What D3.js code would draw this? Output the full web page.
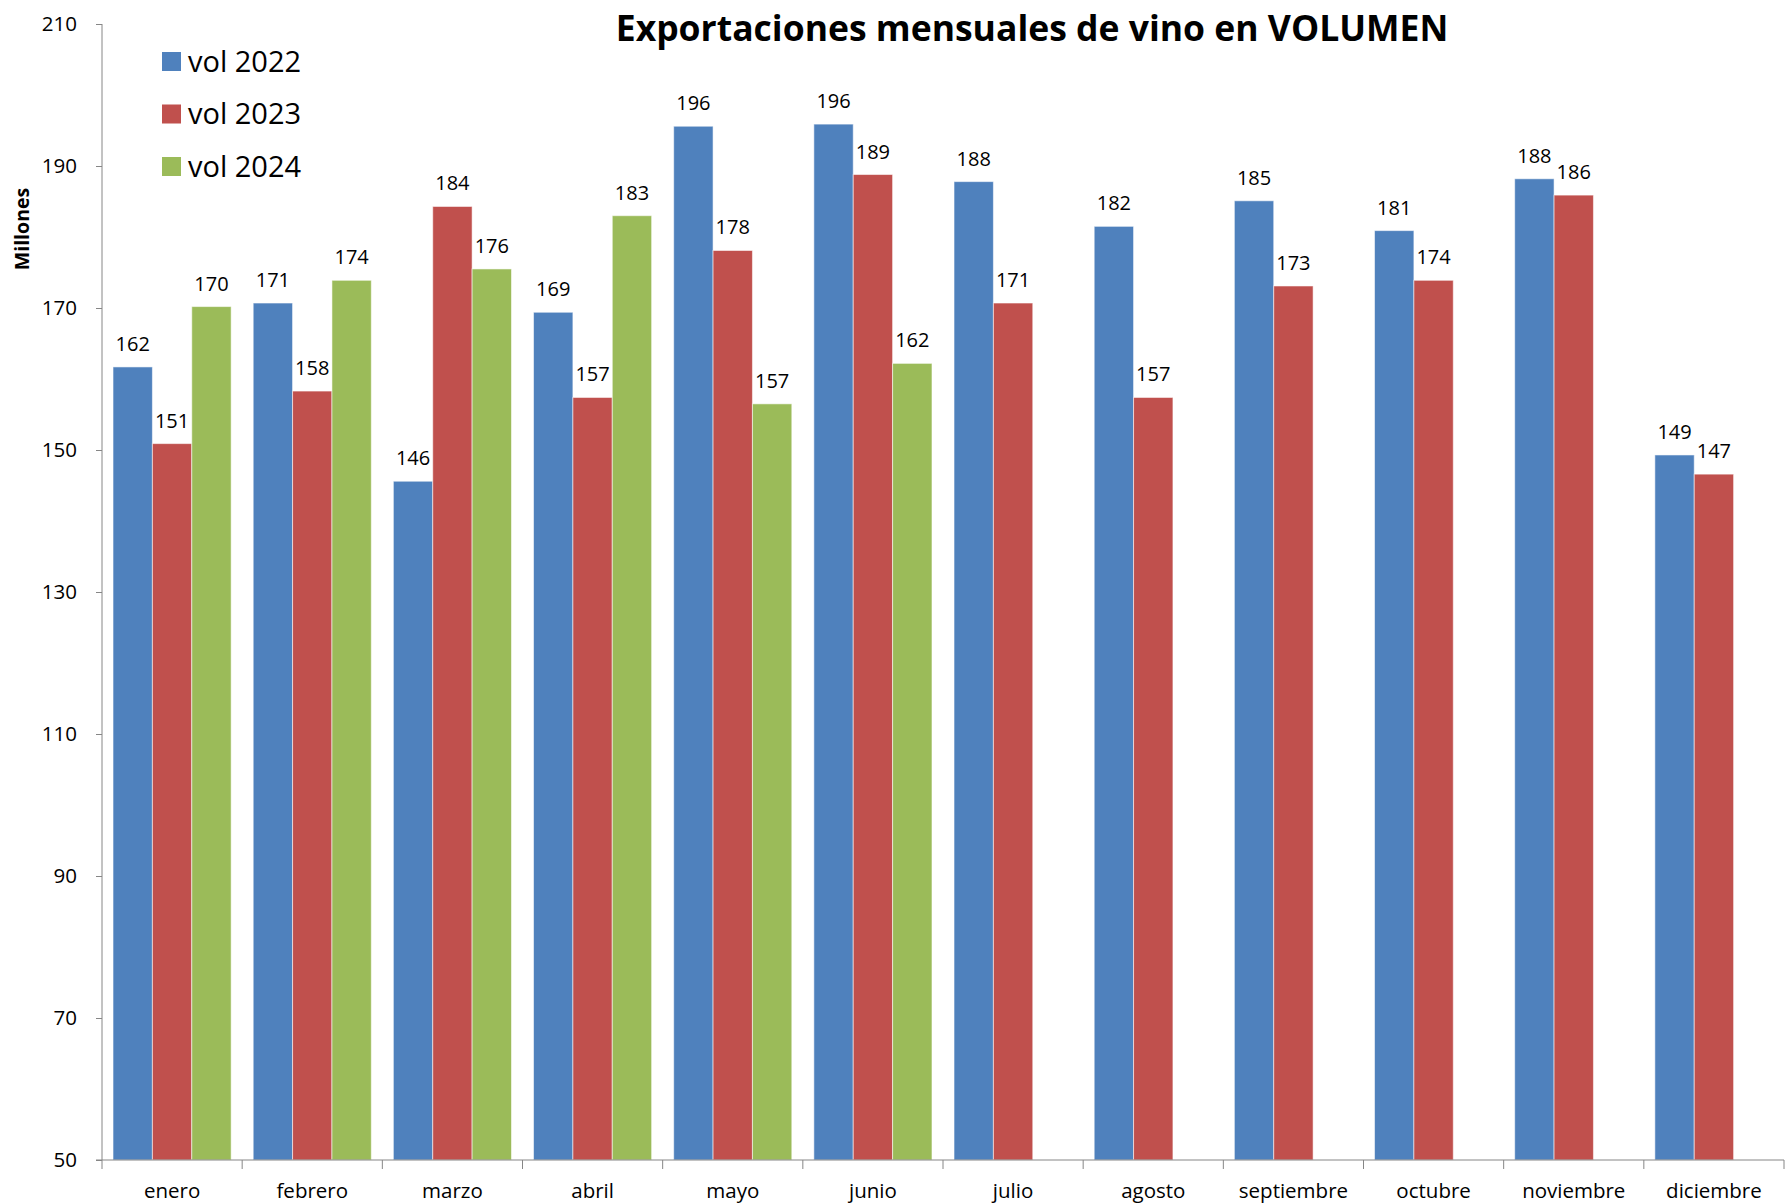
<!DOCTYPE html>
<html>
<head>
<meta charset="utf-8">
<script src="https://cdn.jsdelivr.net/npm/d3@7"></script>
<style>
  body { margin: 0; background: #fff; }
  text { font-family: "Open Sans", "Liberation Sans", sans-serif; fill: #000; }
  .axis path, .axis line { stroke: #868686; }
</style>
</head>
<body>
<div id="chart"></div>
<script>
var months = ['enero', 'febrero', 'marzo', 'abril', 'mayo', 'junio', 'julio', 'agosto', 'septiembre', 'octubre', 'noviembre', 'diciembre']
var series = ['vol 2022', 'vol 2023', 'vol 2024']
var colors = ['#4F81BD', '#C0504D', '#9BBB59']

var vol2022 = [161.7, 170.7, 145.6, 169.4, 195.6, 195.9, 187.8, 181.5, 185.1, 180.9, 188.2, 149.3]
var vol2023 = [150.9, 158.3, 184.3, 157.4, 178.1, 188.8, 170.7, 157.4, 173.1, 173.9, 185.9, 146.6]
var vol2024 = [170.2, 173.9, 175.5, 183.0, 156.5, 162.2]

var yTicks = [50, 70, 90, 110, 130, 150, 170, 190, 210]

var allVals = [vol2022, vol2023, vol2024]

var W = 1785, H = 1203
var margin = {left: 102, right: 1, top: 24, bottom: 43}
var width = W - margin.left - margin.right
var height = H - margin.top - margin.bottom

var svg = d3.select('#chart').append('svg')
  .attr('width', W).attr('height', H)

var g = svg.append('g').attr('transform', 'translate(' + margin.left + ',' + margin.top + ')')

var x0 = d3.scaleBand().domain(months).range([0, width]).padding(0)
var x1 = d3.scaleBand().domain(series).range([0, x0.bandwidth()]).paddingInner(0).paddingOuter(0.28)
var y = d3.scaleLinear().domain([50, 210]).range([height, 0])

// bars
var rows = []
series.forEach(function(s, i){
  allVals[i].forEach(function(v, j){
    rows.push({series: s, idx: i, month: months[j], value: v})
  })
})

g.selectAll('rect.bar').data(rows).enter().append('rect')
  .attr('class', 'bar')
  .attr('x', function(d){ return x0(d.month) + x1(d.series) })
  .attr('y', function(d){ return y(d.value) })
  .attr('width', x1.bandwidth())
  .attr('height', function(d){ return height - y(d.value) })
  .attr('fill', function(d){ return colors[d.idx] })
  .attr('stroke', 'rgba(255,255,255,0.55)')
  .attr('stroke-width', 1)

g.selectAll('text.lbl').data(rows).enter().append('text')
  .attr('class', 'lbl')
  .attr('x', function(d){ return x0(d.month) + x1(d.series) + x1.bandwidth() / 2 })
  .attr('y', function(d){ return y(d.value) - 16 })
  .attr('text-anchor', 'middle')
  .style('font-size', '20px')
  .text(function(d){ return Math.round(d.value) })

// axes
var yAxis = d3.axisLeft(y).tickValues(yTicks).tickSize(6).tickPadding(19)
var yG = g.append('g').attr('class', 'axis').call(yAxis)
yG.select('.domain').attr('d', 'M0,0V' + (height + 9))
yG.selectAll('text').style('font-size', '20.5px')

var xAxis = d3.axisBottom(x0).tickSize(0).tickPadding(23)
var xG = g.append('g').attr('class', 'axis').attr('transform', 'translate(0,' + height + ')').call(xAxis)
xG.select('.domain').attr('d', 'M-6,0H' + width)
xG.selectAll('text').style('font-size', '20.5px')
xG.selectAll('.bound').data(months).enter().append('line')
  .attr('class', 'bound')
  .attr('x1', function(d){ return x0(d) + x0.bandwidth() })
  .attr('x2', function(d){ return x0(d) + x0.bandwidth() })
  .attr('y1', 0).attr('y2', 9)
  .attr('stroke', '#868686')

// title
svg.append('text')
  .attr('x', 1032).attr('y', 41)
  .attr('text-anchor', 'middle')
  .style('font-size', '35.5px').style('font-weight', 'bold')
  .text('Exportaciones mensuales de vino en VOLUMEN')

svg.append('text')
  .attr('transform', 'translate(29,229) rotate(-90)')
  .attr('text-anchor', 'middle')
  .style('font-size', '19.5px').style('font-weight', 'bold')
  .text('Millones')

// legend
var leg = svg.append('g').attr('transform', 'translate(162,52)')
var li = leg.selectAll('g').data(series).enter().append('g')
  .attr('transform', function(d, i){ return 'translate(0,' + (i * 52.5) + ')' })
li.append('rect').attr('width', 19).attr('height', 19)
  .attr('fill', function(d, i){ return colors[i] })
li.append('text').attr('x', 26).attr('y', 19.5)
  .style('font-size', '29px')
  .text(function(d){ return d })
</script>
</body>
</html>
